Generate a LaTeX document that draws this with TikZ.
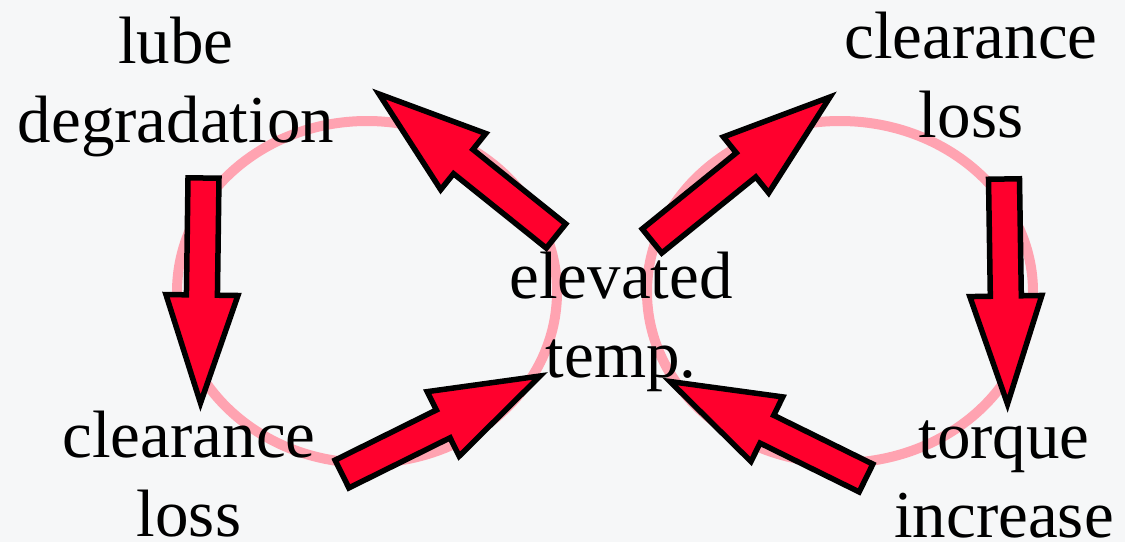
\documentclass[tikz,border=0pt]{standalone}
\usepackage{fontspec}
\setmainfont{Liberation Serif}
\usetikzlibrary{calc}
\definecolor{bggrey}{RGB}{246,247,248}
\definecolor{ringpink}{RGB}{255,163,177}
\definecolor{arrowred}{RGB}{255,0,45}
\tikzset{
  ring/.style={draw=ringpink, line width=10pt},
  fatarr/.style={draw=black, fill=arrowred, line width=5.5pt, line join=miter},
  lbl/.style={align=center, anchor=base, inner sep=0pt, font=\fontsize{67}{79}\selectfont}
}
% block arrow from tail (#1) to tip (#2)
\newcommand{\fatarrow}[2]{%
  \coordinate (hb) at ($(#2)!\headlen!(#1)$);
  \draw[fatarr] ($(#1)!\shaftw!90:(#2)$) -- ($(hb)!\shaftw!90:(#2)$) -- ($(hb)!\headw!90:(#2)$) -- (#2)
    -- ($(hb)!\headw!-90:(#2)$) -- ($(hb)!\shaftw!-90:(#2)$) -- ($(#1)!\shaftw!-90:(#2)$) -- cycle;}

\begin{document}
\begin{tikzpicture}[x=1pt, y=-1pt, line cap=butt]
	\def\shaftw{15.5pt} \def\headw{36pt} \def\headlen{108pt}
	\path[use as bounding box, fill=bggrey] (0,0) rectangle (1125,542);
	% the two loops
	\draw[ring] (367,292) ellipse [x radius=190, y radius=171];
	\draw[ring] (840,292) ellipse [x radius=193, y radius=171];
	% arrow ends
	\coordinate (ld-s) at (203.5,178);  \coordinate (ld-e) at (200.5,403);
	\coordinate (rd-s) at (1004,179);   \coordinate (rd-e) at (1007.5,404);
	\coordinate (ul-s) at (556,236);    \coordinate (ul-e) at (379,94);
	\coordinate (ur-s) at (652,241);    \coordinate (ur-e) at (830,97);
	\coordinate (ll-s) at (342,474);    \coordinate (ll-e) at (540,376);
	\coordinate (lr-s) at (866,478);    \coordinate (lr-e) at (670,381.5);
	\fatarrow{ld-s}{ld-e}
	\fatarrow{rd-s}{rd-e}
	\fatarrow{ul-s}{ul-e}
	\fatarrow{ur-s}{ur-e}
	\fatarrow{ll-s}{ll-e}
	\fatarrow{lr-s}{lr-e}
	% labels (base = last line)
	\node[lbl] (lube) at (176,142) {lube\\degradation};
	\node[lbl] (clrtop) at (971,137) {clearance\\loss};
	\node[lbl] (elev) at (621,377) {elevated\\temp.};
	\node[lbl] (clrbot) at (189,536) {clearance\\loss};
	\node[lbl] (torq) at (1004,537) {torque\\increase};
\end{tikzpicture}
\end{document}
